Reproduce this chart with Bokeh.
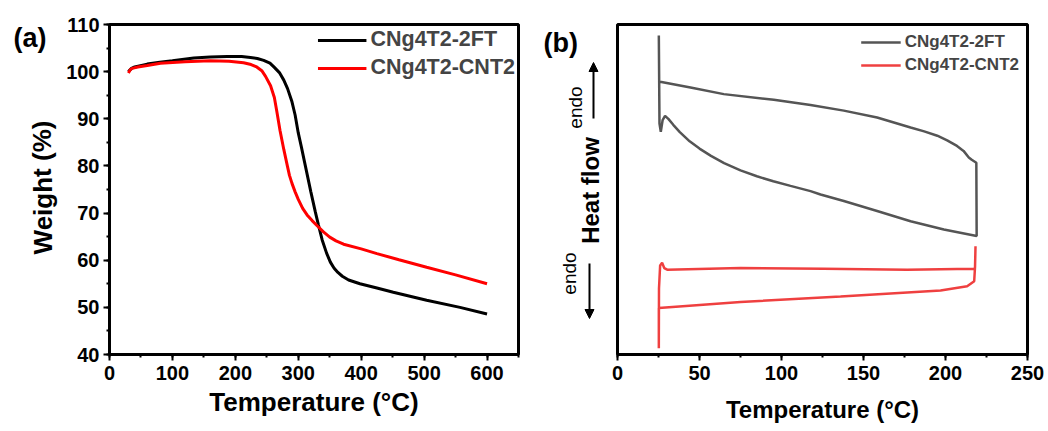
from bokeh.plotting import figure
from bokeh.layouts import row
from bokeh.models import (Legend, LegendItem, Arrow, NormalHead,
                          SingleIntervalTicker, Range1d)
from bokeh.core.properties import value
from bokeh.embed import file_html
from bokeh.resources import INLINE

FONT = "Liberation Sans"

# ---------------- (a) TGA data ----------------
tga_2ft_temp = [30, 35, 40, 60, 80, 100, 134, 160, 187, 210, 224, 235, 245, 255, 262, 270, 277,
                283, 290, 295, 300, 305, 310, 320, 327, 332, 338, 345, 351, 357, 363, 370, 380,
                398, 425, 451, 504, 557, 600]
tga_2ft_weight = [100.0, 100.7, 101.0, 101.6, 102.0, 102.3, 102.9, 103.1, 103.2, 103.2, 103.0,
                  102.8, 102.4, 101.8, 100.9, 99.8, 98.2, 96.4, 93.6, 90.8, 87.0, 84.0, 80.8,
                  74.5, 70.3, 67.5, 64.3, 61.5, 59.6, 58.3, 57.4, 56.6, 55.8, 55.0, 54.1, 53.2,
                  51.5, 50.0, 48.6]
tga_cnt_temp = [30, 33, 36, 45, 60, 81, 120, 160, 190, 213, 225, 234, 242, 248, 256, 262, 266,
                271, 277, 283, 286, 290, 295, 300, 307, 314, 322, 330, 340, 350, 360, 372, 400,
                425, 460, 504, 550, 600]
tga_cnt_weight = [99.7, 100.4, 100.7, 101.0, 101.3, 101.8, 102.1, 102.3, 102.2, 101.9, 101.5,
                  101.0, 100.2, 99.0, 97.0, 94.5, 91.5, 87.5, 83.5, 79.8, 78.0, 76.3, 74.5,
                  72.9, 71.0, 69.6, 68.4, 67.3, 66.0, 64.9, 64.1, 63.4, 62.4, 61.4, 60.1, 58.5,
                  56.9, 55.0]

# ---------------- (b) DSC data (arbitrary units) ----------------
dsc_2ft_temp = [25.2, 25.6, 26.4, 27.5, 29.0, 31.0, 34.0, 38.0, 44.0, 50.0, 57.0, 65.0, 75.0,
                85.0, 95.0, 105.5, 117.7, 123.8, 138.0, 158.3, 178.7, 199.0, 219.0, 218.8, 216.0,
                214.2, 211.0, 207.0, 201.0, 195.0, 187.0, 178.7, 158.3, 138.0, 117.7, 95.3, 64.8,
                44.5, 25.2]
dsc_2ft_flow = [96.7, 70.0, 67.5, 71.0, 72.3, 71.4, 69.6, 67.4, 64.6, 62.4, 60.2, 58.0, 55.8,
                54.0, 52.5, 51.1, 49.5, 48.5, 46.5, 43.5, 40.4, 37.9, 35.9, 58.1, 59.0, 59.7,
                61.7, 63.2, 64.9, 66.3, 67.6, 68.8, 71.8, 73.9, 75.6, 77.2, 78.9, 80.9, 82.7]
dsc_cnt_temp = [218.3, 218.0, 217.5, 213.2, 197.0, 136.0, 75.0, 25.2, 25.2, 25.3, 26.0, 27.2,
                28.5, 30.3, 75.0, 125.6, 176.6, 217.3, 218.0]
dsc_cnt_flow = [32.8, 26.5, 22.2, 20.7, 19.4, 17.6, 15.9, 14.1, 1.9, 20.0, 27.0, 27.8, 26.2,
                25.7, 26.2, 26.0, 25.7, 26.0, 26.1]

series_names = ["CNg4T2-2FT", "CNg4T2-CNT2"]

H = 428
TOP = 24
FRAME_BOTTOM = 354
BOTTOM = H - FRAME_BOTTOM


def base_style(p):
    p.outline_line_color = "black"
    p.outline_line_width = 3
    p.xgrid.visible = False
    p.ygrid.visible = False
    p.background_fill_color = "white"
    p.border_fill_color = "white"
    for ax in p.axis:
        ax.axis_line_width = 3
        ax.axis_line_color = "black"
        ax.major_tick_line_width = 2
        ax.minor_tick_line_width = 2
        ax.major_tick_in = 0
        ax.major_tick_out = 6
        ax.minor_tick_in = 0
        ax.minor_tick_out = 3
        ax.major_label_text_font = FONT
        ax.major_label_text_font_style = "bold"
        ax.major_label_text_font_size = "20px"
        ax.major_label_text_color = "black"
        ax.axis_label_text_font = FONT
        ax.axis_label_text_font_style = "bold"
        ax.axis_label_text_color = "black"
        ax.major_label_standoff = 5


def side_fig(x0, x1):
    # strip whose data coordinates equal page pixels (its frame is aligned with the plots)
    s = figure(width=x1 - x0, height=H, output_backend="svg", toolbar_location=None,
               x_range=Range1d(x0, x1), y_range=Range1d(FRAME_BOTTOM, TOP),
               x_axis_type=None, y_axis_type=None, min_border_left=0, min_border_right=0,
               min_border_top=TOP, min_border_bottom=BOTTOM)
    s.outline_line_color = None
    s.background_fill_color = "white"
    s.border_fill_color = "white"
    return s


# ---------------- side strip for (a): panel letter + y title ----------------
sa = side_fig(0, 60)
sa.text(x=[13], y=[37], text=["(a)"], text_font=value(FONT), text_font_style="bold",
        text_font_size="27px", text_baseline="middle", text_align="left", text_color="black")
sa.text(x=[42], y=[187], text=["Weight (%)"], angle=1.5708, text_font=value(FONT),
        text_font_style="bold", text_font_size="26px", text_baseline="middle",
        text_align="center", text_color="black")

# ---------------- figure (a) ----------------
pa = figure(width=478, height=H, output_backend="svg", toolbar_location=None,
            x_range=Range1d(0, 650), y_range=Range1d(40, 110),
            min_border_left=49, min_border_right=20, min_border_top=TOP,
            min_border_bottom=BOTTOM)
base_style(pa)
pa.xaxis.ticker = SingleIntervalTicker(interval=100, num_minor_ticks=2)
pa.yaxis.ticker = SingleIntervalTicker(interval=10, num_minor_ticks=2)
pa.xaxis.axis_label = "Temperature (°C)"
pa.xaxis.axis_label_text_font_size = "26px"
pa.xaxis.axis_label_standoff = 4
pa.yaxis.major_label_standoff = 4

ra1 = pa.line(tga_2ft_temp, tga_2ft_weight, line_color="black", line_width=3)
ra2 = pa.line(tga_cnt_temp, tga_cnt_weight, line_color="#ff0000", line_width=3)
leg_a = Legend(items=[LegendItem(label=series_names[0], renderers=[ra1]),
                      LegendItem(label=series_names[1], renderers=[ra2])],
               location="top_right", margin=3, padding=5, spacing=3,
               glyph_width=49, glyph_height=20, label_standoff=4,
               label_text_font=FONT, label_text_font_style="bold",
               label_text_font_size="21.5px", border_line_color=None,
               background_fill_alpha=0)
pa.add_layout(leg_a)

# ---------------- side strip for (b): panel letter + heat-flow annotation ----------------
sb = side_fig(538, 608)
sb.text(x=[543], y=[42], text=["(b)"], text_font=value(FONT), text_font_style="bold",
        text_font_size="27px", text_baseline="middle", text_align="left", text_color="black")
sb.text(x=[590], y=[190], text=["Heat flow"], angle=1.5708, text_font=value(FONT),
        text_font_style="bold", text_font_size="24px", text_baseline="middle",
        text_align="center", text_color="black")
sb.text(x=[575, 569], y=[107, 273], text=["endo", "endo"], angle=1.5708,
        text_font=value(FONT), text_font_size="19px", text_baseline="middle",
        text_align="center", text_color="black")
sb.add_layout(Arrow(x_start=593, y_start=118, x_end=593, y_end=62, line_width=2,
                    end=NormalHead(size=9, fill_color="black", line_color="black")))
sb.add_layout(Arrow(x_start=589, y_start=263, x_end=589, y_end=318, line_width=2,
                    end=NormalHead(size=9, fill_color="black", line_color="black")))

# ---------------- figure (b) ----------------
pb = figure(width=438, height=H, output_backend="svg", toolbar_location=None,
            x_range=Range1d(0, 250), y_range=Range1d(0, 100),
            min_border_left=9, min_border_right=19, min_border_top=TOP,
            min_border_bottom=BOTTOM)
base_style(pb)
pb.yaxis.visible = False
pb.xaxis.ticker = SingleIntervalTicker(interval=50, num_minor_ticks=2)
pb.xaxis.axis_label = "Temperature (°C)"
pb.xaxis.axis_label_text_font_size = "24px"
pb.xaxis.axis_label_standoff = 13

rb1 = pb.line(dsc_2ft_temp, dsc_2ft_flow, line_color="#555555", line_width=2.5)
rb2 = pb.line(dsc_cnt_temp, dsc_cnt_flow, line_color="#ef4040", line_width=2.5)
leg_b = Legend(items=[LegendItem(label=series_names[0], renderers=[rb1]),
                      LegendItem(label=series_names[1], renderers=[rb2])],
               location="top_right", margin=8, padding=5, spacing=3,
               glyph_width=40, glyph_height=16, label_standoff=4,
               label_text_font=FONT, label_text_font_style="bold",
               label_text_font_size="17px", border_line_color=None,
               background_fill_alpha=0)
pb.add_layout(leg_b)

layout = row(sa, pa, sb, pb)
open("out.html", "w").write(file_html(layout, INLINE))
